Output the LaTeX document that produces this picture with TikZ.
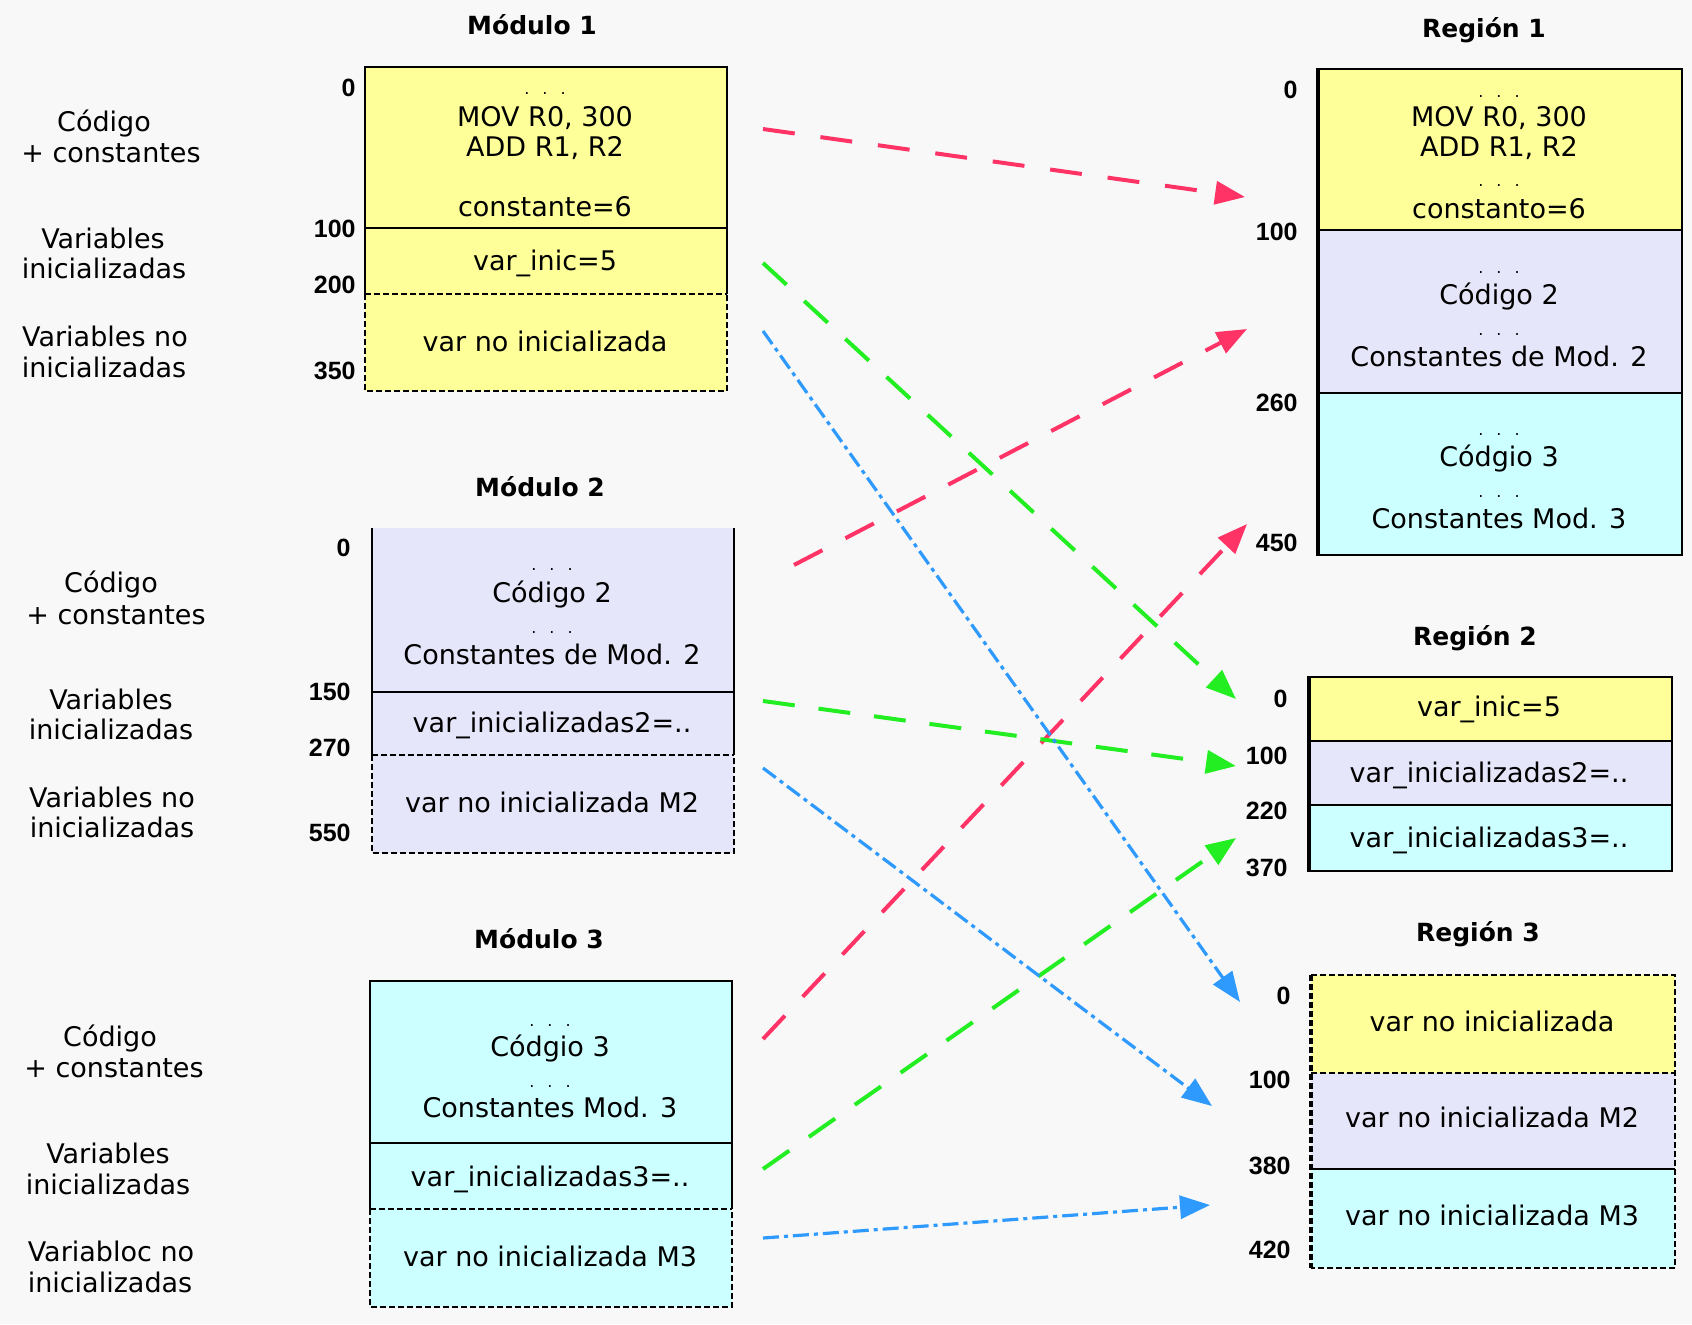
\documentclass[tikz,border=0pt]{standalone}
\usepackage{fontspec}
\setmainfont{DejaVu Sans}
\newfontfamily\numfam{Liberation Sans}
\usetikzlibrary{arrows.meta}
\definecolor{yel}{HTML}{FFFF99}
\definecolor{lav}{HTML}{E6E6FA}
\definecolor{cyn}{HTML}{CCFFFF}
\definecolor{redar}{HTML}{FF3366}
\definecolor{grnar}{HTML}{22EE22}
\definecolor{bluar}{HTML}{2E9AFE}
\definecolor{bgc}{HTML}{F8F8F8}
\newcommand\txtfont{\fontsize{13.5pt}{15pt}\selectfont}
\newcommand\ttlfont{\bfseries\fontsize{12.5pt}{14pt}\selectfont}
\newcommand\numfont{\numfam\bfseries\fontsize{12.5pt}{14pt}\selectfont}
\newcommand\mydots{.\hspace{6.5pt}.\hspace{6.5pt}.}
\tikzset{
  lbl/.style={font=\txtfont, inner sep=0pt, text height=9.8pt, text depth=0pt, anchor=center},
  dotsl/.style={font=\fontsize{8pt}{9pt}\selectfont, inner sep=0pt, anchor=base},
  ttl/.style={font=\ttlfont, inner sep=0pt, text height=9.1pt, text depth=0pt, anchor=center},
  num/.style={font=\numfont, inner sep=0pt, text height=8.95pt, text depth=0pt, anchor=east},
  solidln/.style={draw=black, line width=1.2pt},
  dashln/.style={draw=black, line width=1.2pt, dash pattern=on 3pt off 1.5pt},
  thickln/.style={draw=black, line width=2.4pt},
  thickdash/.style={draw=black, line width=2.4pt, dash pattern=on 3pt off 1.5pt},
  arr/.style={-{Triangle[length=15pt,width=11.5pt]}},
  redarrow/.style={arr, draw=redar, line width=2pt, dash pattern=on 16pt off 13pt},
  grnarrow/.style={arr, draw=grnar, line width=2pt, dash pattern=on 16pt off 12pt},
  bluarrow/.style={arr, draw=bluar, line width=1.6pt, dash pattern=on 8pt off 2.5pt on 2pt off 2.5pt},
}
\begin{document}
\begin{tikzpicture}[x=0.5pt,y=-0.5pt]
\useasboundingbox (0,0) rectangle (1692,1324);
\fill[bgc] (0,0) rectangle (1692,1324);

% ---------------- Modulo 1 ----------------
\node[ttl] (m1title) at (532,25) {Módulo 1};
\fill[yel] (365,67) rectangle (727,391);
\draw[solidln] (365,294) -- (365,67) -- (727,67) -- (727,294);
\draw[solidln] (365,228) -- (727,228);
\draw[dashln] (365,294) -- (727,294);
\draw[dashln] (365,294) -- (365,391) -- (727,391) -- (727,294);
\node[dotsl] (m1d1) at (545,94) {\mydots};
\node[lbl] (m1a) at (545,117) {MOV R0, 300};
\node[lbl] (m1b) at (545,147) {ADD R1, R2};
\node[lbl] (m1c) at (545,207) {constante=6};
\node[lbl] (m1v) at (545,261) {var\_inic=5};
\node[lbl] (m1n) at (545,342) {var no inicializada};
\node[num] (m1n0) at (356,88) {0};
\node[num] (m1n1) at (356,229) {100};
\node[num] (m1n2) at (356,285) {200};
\node[num] (m1n3) at (356,371) {350};
\node[lbl] (m1l1) at (104,122) {Código};
\node[lbl] (m1l2) at (111,153) {+ constantes};
\node[lbl] (m1l3) at (103,239) {Variables};
\node[lbl] (m1l4) at (104,269) {inicializadas};
\node[lbl] (m1l5) at (105,337) {Variables no};
\node[lbl] (m1l6) at (104,368) {inicializadas};

% ---------------- Modulo 2 ----------------
\node[ttl] (m2title) at (540,487) {Módulo 2};
\fill[lav] (372,528) rectangle (734,853);
\draw[solidln] (372,528) -- (372,755);
\draw[solidln] (734,528) -- (734,755);
\draw[solidln] (372,692) -- (734,692);
\draw[dashln] (372,755) -- (734,755);
\draw[dashln] (372,755) -- (372,853) -- (734,853) -- (734,755);
\node[dotsl] (m2d1) at (552,570) {\mydots};
\node[lbl] (m2a) at (552,593) {Código 2};
\node[dotsl] (m2d2) at (552,633) {\mydots};
\node[lbl] (m2b) at (552,655) {Constantes de Mod. 2};
\node[lbl] (m2v) at (552,723) {var\_inicializadas2=..};
\node[lbl] (m2n) at (552,803) {var no inicializada M2};
\node[num] (m2n0) at (351,548) {0};
\node[num] (m2n1) at (351,692) {150};
\node[num] (m2n2) at (351,748) {270};
\node[num] (m2n3) at (351,833) {550};
\node[lbl] (m2l1) at (111,583) {Código};
\node[lbl] (m2l2) at (116,615) {+ constantes};
\node[lbl] (m2l3) at (111,700) {Variables};
\node[lbl] (m2l4) at (111,730) {inicializadas};
\node[lbl] (m2l5) at (112,798) {Variables no};
\node[lbl] (m2l6) at (112,828) {inicializadas};

% ---------------- Modulo 3 ----------------
\node[ttl] (m3title) at (539,939) {Módulo 3};
\fill[cyn] (370,981) rectangle (732,1307);
\draw[solidln] (370,1209) -- (370,981) -- (732,981) -- (732,1209);
\draw[solidln] (370,1143) -- (732,1143);
\draw[dashln] (370,1209) -- (732,1209);
\draw[dashln] (370,1209) -- (370,1307) -- (732,1307) -- (732,1209);
\node[dotsl] (m3d1) at (550,1026) {\mydots};
\node[lbl] (m3a) at (550,1047) {Códgio 3};
\node[dotsl] (m3d2) at (550,1087) {\mydots};
\node[lbl] (m3b) at (550,1108) {Constantes Mod. 3};
\node[lbl] (m3v) at (550,1177) {var\_inicializadas3=..};
\node[lbl] (m3n) at (550,1257) {var no inicializada M3};
\node[lbl] (m3l1) at (110,1037) {Código};
\node[lbl] (m3l2) at (114,1068) {+ constantes};
\node[lbl] (m3l3) at (108,1154) {Variables};
\node[lbl] (m3l4) at (108,1185) {inicializadas};
\node[lbl] (m3l5) at (111,1252) {Variabloc no};
\node[lbl] (m3l6) at (110,1283) {inicializadas};

% ---------------- Region 1 ----------------
\node[ttl] (r1title) at (1484,28) {Región 1};
\fill[yel] (1318,69) rectangle (1682,230);
\fill[lav] (1318,230) rectangle (1682,393);
\fill[cyn] (1318,393) rectangle (1682,555);
\draw[solidln] (1318,69) -- (1682,69) -- (1682,555) -- (1318,555);
\draw[thickln] (1318,68) -- (1318,556);
\draw[solidln] (1318,230) -- (1682,230);
\draw[solidln] (1318,393) -- (1682,393);
\node[dotsl] (r1d1) at (1499,97) {\mydots};
\node[lbl] (r1a) at (1499,117) {MOV R0, 300};
\node[lbl] (r1b) at (1499,147) {ADD R1, R2};
\node[dotsl] (r1d2) at (1499,186) {\mydots};
\node[lbl] (r1c) at (1499,209) {constanto=6};
\node[dotsl] (r1d3) at (1499,273) {\mydots};
\node[lbl] (r1e) at (1499,295) {Código 2};
\node[dotsl] (r1d4) at (1499,335) {\mydots};
\node[lbl] (r1f) at (1499,357) {Constantes de Mod. 2};
\node[dotsl] (r1d5) at (1499,435) {\mydots};
\node[lbl] (r1g) at (1499,457) {Códgio 3};
\node[dotsl] (r1d6) at (1499,497) {\mydots};
\node[lbl] (r1h) at (1499,519) {Constantes Mod. 3};
\node[num] (r1n0) at (1298,90) {0};
\node[num] (r1n1) at (1298,232) {100};
\node[num] (r1n2) at (1298,403) {260};
\node[num] (r1n3) at (1298,543) {450};

% ---------------- Region 2 ----------------
\node[ttl] (r2title) at (1475,636) {Región 2};
\fill[yel] (1309,677) rectangle (1672,741);
\fill[lav] (1309,741) rectangle (1672,805);
\fill[cyn] (1309,805) rectangle (1672,871);
\draw[solidln] (1309,677) -- (1672,677) -- (1672,871) -- (1309,871);
\draw[thickln] (1309,676) -- (1309,872);
\draw[solidln] (1309,741) -- (1672,741);
\draw[solidln] (1309,805) -- (1672,805);
\node[lbl] (r2a) at (1489,707) {var\_inic=5};
\node[lbl] (r2b) at (1489,773) {var\_inicializadas2=..};
\node[lbl] (r2c) at (1489,838) {var\_inicializadas3=..};
\node[num] (r2n0) at (1288,699) {0};
\node[num] (r2n1) at (1288,756) {100};
\node[num] (r2n2) at (1288,811) {220};
\node[num] (r2n3) at (1288,868) {370};

% ---------------- Region 3 ----------------
\node[ttl] (r3title) at (1478,932) {Región 3};
\fill[yel] (1311,975) rectangle (1675,1073);
\fill[lav] (1311,1073) rectangle (1675,1169);
\fill[cyn] (1311,1169) rectangle (1675,1268);
\draw[dashln] (1311,975) -- (1675,975) -- (1675,1268) -- (1311,1268);
\draw[thickdash] (1311,975) -- (1311,1268);
\draw[dashln] (1311,1073) -- (1675,1073);
\draw[solidln] (1311,1169) -- (1675,1169);
\node[lbl] (r3a) at (1492,1022) {var no inicializada};
\node[lbl] (r3b) at (1492,1118) {var no inicializada M2};
\node[lbl] (r3c) at (1492,1216) {var no inicializada M3};
\node[num] (r3n0) at (1291,996) {0};
\node[num] (r3n1) at (1291,1080) {100};
\node[num] (r3n2) at (1291,1166) {380};
\node[num] (r3n3) at (1291,1250) {420};

% ---------------- connectors ----------------
\coordinate (ra0) at (763,129);  \coordinate (ra1) at (1245,197);
\coordinate (rb0) at (794,565);  \coordinate (rb1) at (1247,329);
\coordinate (rc0) at (763,1039); \coordinate (rc1) at (1247,524);
\coordinate (ga0) at (763,263);  \coordinate (ga1) at (1236,699);
\coordinate (gb0) at (763,701);  \coordinate (gb1) at (1236,766);
\coordinate (gc0) at (763,1169); \coordinate (gc1) at (1236,838);
\coordinate (ba0) at (763,331);  \coordinate (ba1) at (1240,1002);
\coordinate (bb0) at (763,768);  \coordinate (bb1) at (1212,1106);
\coordinate (bc0) at (763,1238); \coordinate (bc1) at (1210,1205);
\draw[redarrow] (ra0) -- (ra1);
\draw[redarrow] (rb0) -- (rb1);
\draw[redarrow] (rc0) -- (rc1);
\draw[grnarrow] (ga0) -- (ga1);
\draw[grnarrow] (gb0) -- (gb1);
\draw[grnarrow] (gc0) -- (gc1);
\draw[bluarrow] (ba0) -- (ba1);
\draw[bluarrow] (bb0) -- (bb1);
\draw[bluarrow] (bc0) -- (bc1);
\end{tikzpicture}
\end{document}
